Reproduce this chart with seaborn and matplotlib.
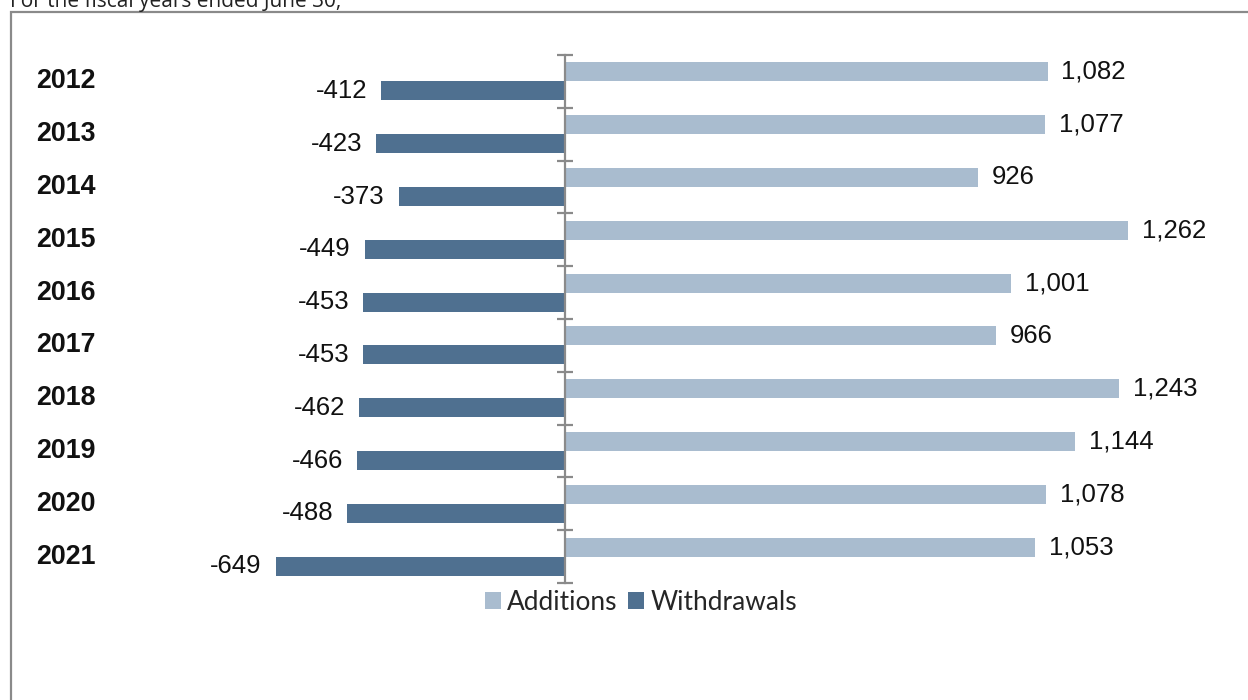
import matplotlib
matplotlib.use("Agg")
import matplotlib.pyplot as plt
import seaborn as sns
import pandas as pd
from matplotlib.patches import Rectangle
from matplotlib.transforms import blended_transform_factory

years = ["2012", "2013", "2014", "2015", "2016", "2017", "2018", "2019", "2020", "2021"]
additions = [1082, 1077, 926, 1262, 1001, 966, 1243, 1144, 1078, 1053]
withdrawals = [-412, -423, -373, -449, -453, -453, -462, -466, -488, -649]
series = ["Additions", "Withdrawals"]
colors = ["#A9BCCF", "#4F7090"]
caption = "For the fiscal years ended June 30,"

df = pd.DataFrame({
    "year": years * 2,
    "value": additions + withdrawals,
    "series": [series[0]] * len(years) + [series[1]] * len(years),
})

sns.set_style("white")
plt.rcParams["font.family"] = ["Liberation Sans", "DejaVu Sans"]

W, H = 1248, 700
fig = plt.figure(figsize=(W / 100, H / 100), dpi=100)

# axes geometry in pixels
x0px, x1px = 150, 1240
ytop, ybot = 55, 583
zero_px = 565
scale = 0.446
ax = fig.add_axes([x0px / W, 1 - ybot / H, (x1px - x0px) / W, (ybot - ytop) / H])

sns.barplot(data=df, x="value", y="year", hue="series", hue_order=series,
            palette=colors, orient="h", width=0.72, ax=ax, saturation=1,
            linewidth=0, order=years)

handles, labels = ax.get_legend_handles_labels()
if ax.legend_ is not None:
    ax.legend_.remove()

ax.set_xlim((x0px - zero_px) / scale, (x1px - zero_px) / scale)
ax.set_ylim(len(years) - 0.5, -0.5)

for sp in ["top", "right", "bottom"]:
    ax.spines[sp].set_visible(False)
ax.spines["left"].set_position(("data", 0))
ax.spines["left"].set_color("#8A8A8A")
ax.spines["left"].set_linewidth(1.6)
ax.set_xticks([])
ax.set_yticks([i - 0.5 for i in range(len(years) + 1)])
ax.set_yticklabels([])
ax.tick_params(axis="y", direction="inout", length=12, width=1.6, color="#8A8A8A", left=True)
ax.set_xlabel("")
ax.set_ylabel("")
ax.patch.set_alpha(0)

for cont in ax.containers:
    ax.bar_label(cont, fmt="{:,.0f}", padding=10, fontsize=18.5, color="#111111")

# year labels
tr = blended_transform_factory(fig.transFigure, ax.transData)
for i, yr in enumerate(years):
    ax.text(36 / W, i, yr, transform=tr, ha="left", va="center",
            fontsize=19.3, fontweight="bold", color="#111111")

# frame
fig.patches.append(Rectangle((11 / W, -0.1), 1.2, 1 - 12 / H + 0.1, transform=fig.transFigure,
                             fill=False, edgecolor="#8A8A8A", linewidth=1.6))

# caption (partially cut at top, as in the reference)
fig.text(10 / W, 1 - 7.5 / H, caption, ha="left", va="baseline", fontsize=15,
         family=["Open Sans", "DejaVu Sans"], color="#222222")

fig.legend(handles, labels, loc="center", bbox_to_anchor=(641 / W, 1 - 602 / H),
           ncol=2, frameon=False, prop={"family": ["Lato", "DejaVu Sans"], "size": 18.9},
           handlelength=0.6, handleheight=0.6, handletextpad=0.25, columnspacing=0.4,
           borderpad=0, borderaxespad=0)

fig.savefig("out.png", dpi=100)
